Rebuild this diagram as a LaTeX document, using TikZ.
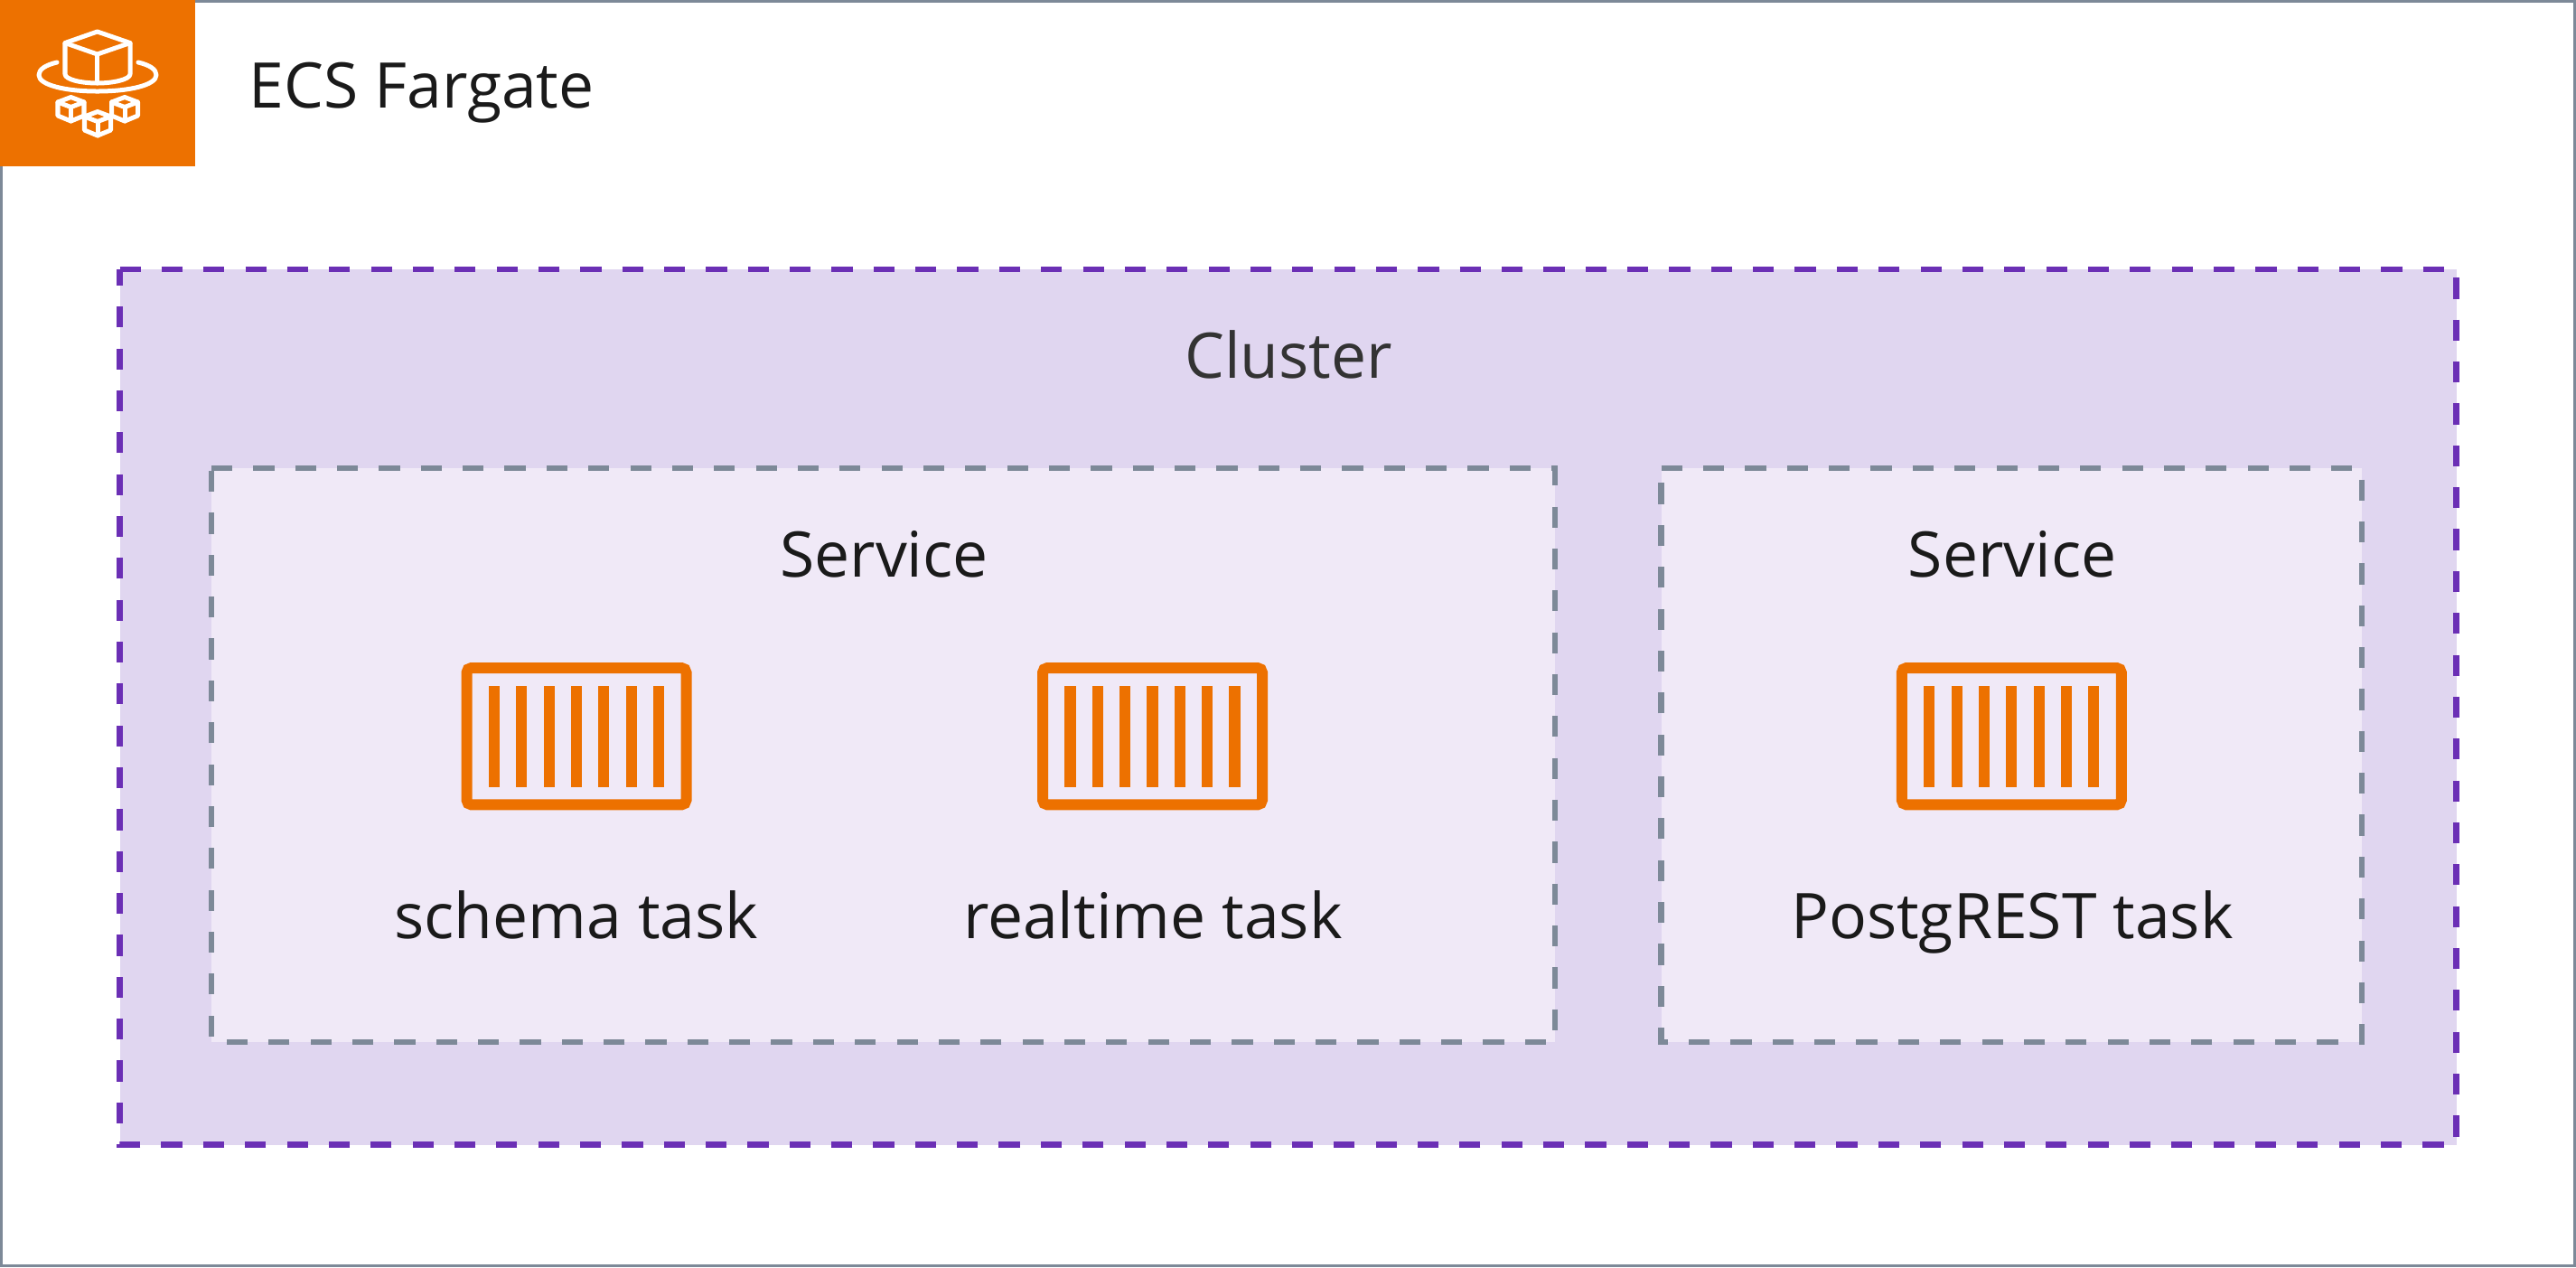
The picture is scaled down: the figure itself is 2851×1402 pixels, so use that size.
\documentclass[tikz,border=0pt]{standalone}
\usepackage{fontspec}
\setmainfont{Open Sans}
\usepackage{tikz}
\usetikzlibrary{positioning}

\definecolor{awsorange}{HTML}{ED7100}
\definecolor{awsgray}{HTML}{7D8998}
\definecolor{clusterline}{HTML}{6B2FB5}
\definecolor{clusterfill}{HTML}{E0D6F0}
\definecolor{servicefill}{HTML}{F0E9F7}
\definecolor{labelink}{HTML}{1A1A1A}
\definecolor{clusterink}{HTML}{333333}

\tikzset{
  px/.style={line width=#1*0.2845pt},
  cubeline/.style={draw=white,px=5,line join=round,line cap=round},
  minicube/.pic={
    \draw[cubeline] (0,-13.5) -- (14.5,-8) -- (14.5,7) -- (0,13) -- (-14.5,7) -- (-14.5,-8) -- cycle;
    \draw[cubeline] (-14.5,-8) -- (0,-2.5) -- (14.5,-8);
    \draw[cubeline] (0,-2.5) -- (0,13);
  },
  taskicon/.pic={
    \draw[draw=awsorange,px=12,rounded corners=1.5pt] (-121.5,-75.7) rectangle (121.5,75.7);
    \foreach \n in {-3,...,3}
      \fill[awsorange] (\n*30.35-6.1,-55.8) rectangle (\n*30.35+6.1,55.8);
  },
  boxlabel/.style={font=\fontsize{19.8pt}{24pt}\selectfont,text=labelink,inner sep=0pt,anchor=base},
  clusterbox/.style={fill=clusterfill,draw=clusterline,px=6.5,dash pattern=on 6.59pt off 6.59pt},
  servicebox/.style={fill=servicefill,draw=awsgray,px=6.5,dash pattern=on 6.59pt off 6.59pt},
}

\begin{document}
\begin{tikzpicture}[x=0.01cm,y=-0.01cm]
\useasboundingbox (0,0) rectangle (2851,1402);
\fill[white] (0,0) rectangle (2851,1402);
\draw[awsgray,px=3] (1.5,1.5) rectangle (2849.5,1400.5);

% header
\fill[awsorange] (0,0) rectangle (216,184);
\draw[cubeline] (72,47.5) -- (107.7,35) -- (144,47.5) -- (144,82) .. controls (144,88) and (125,92) .. (107.7,92) .. controls (90,92) and (72,88) .. (72,82) -- cycle;
\draw[cubeline] (72,47.5) -- (107.7,60) -- (144,47.5);
\draw[cubeline] (107.7,60) -- (107.7,91);
\draw[cubeline] (63,69) .. controls (50,72) and (43,77) .. (43,83) .. controls (43,94) and (72,101) .. (107.7,101) .. controls (144,101) and (173,94) .. (173,83) .. controls (173,77) and (166,72) .. (153,69);
\pic at (78.5,121) {minicube};
\pic at (108,137) {minicube};
\pic at (138,121) {minicube};
\node[boxlabel,anchor=base west] (fargate) at (275,119) {ECS Fargate};

% cluster
\draw[clusterbox] (132.5,298) -- (2718.7,298) -- (2718.7,1266.5) -- (132.5,1266.5) -- cycle;
\node[boxlabel,text=clusterink] (cluster) at (1426,418) {Cluster};

% services
\draw[servicebox] (234,518) -- (1721,518) -- (1721,1153) -- (234,1153) -- cycle;
\draw[servicebox] (1838.7,518) -- (2614,518) -- (2614,1153) -- (1838.7,1153) -- cycle;
\node[boxlabel] (serviceA) at (978.5,638) {Service};
\node[boxlabel] (serviceB) at (2227,638) {Service};

% tasks
\pic at (638,814.7) {taskicon};
\pic at (1275.5,814.7) {taskicon};
\pic at (2226.3,814.7) {taskicon};
\node[boxlabel] (schema) at (638,1038) {schema task};
\node[boxlabel] (realtime) at (1276,1038) {realtime task};
\node[boxlabel] (postgrest) at (2227,1038) {PostgREST task};
\end{tikzpicture}
\end{document}
